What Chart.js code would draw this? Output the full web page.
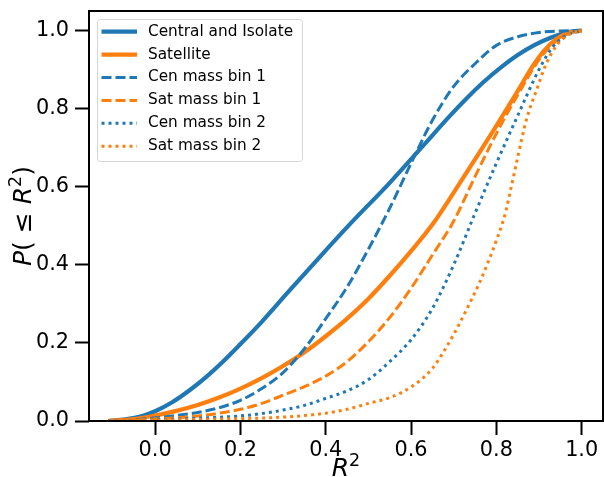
<!DOCTYPE html>
<html>
<head>
<meta charset="utf-8">
<script src="https://cdn.jsdelivr.net/npm/chart.js@4.4.0/dist/chart.umd.min.js"></script>
<style>
  html, body { margin: 0; padding: 0; background: #fff; }
  #wrap { width: 604px; height: 477px; }
</style>
</head>
<body>
<div id="wrap"><canvas id="cdfchart" width="604" height="477"></canvas></div>
<script>
// values (x = R^2, y = cumulative fraction)
const cenAllX = [-0.11, -0.07, -0.03, 0.0, 0.04, 0.08, 0.12, 0.16, 0.2, 0.25, 0.31, 0.39, 0.46, 0.55, 0.63, 0.69, 0.73, 0.77, 0.81, 0.85, 0.89, 0.93, 0.97, 1.0];
const cenAllY = [0, 0.004, 0.013, 0.025, 0.048, 0.078, 0.113, 0.153, 0.197, 0.254, 0.328, 0.425, 0.508, 0.61, 0.707, 0.78, 0.826, 0.868, 0.905, 0.937, 0.963, 0.983, 0.996, 1.0];

const satAllX = [-0.11, -0.05, 0.0, 0.05, 0.1, 0.15, 0.2, 0.25, 0.3, 0.35, 0.4, 0.45, 0.5, 0.55, 0.6, 0.65, 0.7, 0.75, 0.8, 0.85, 0.88, 0.91, 0.94, 0.97, 1.0];
const satAllY = [0, 0.005, 0.014, 0.026, 0.041, 0.06, 0.083, 0.11, 0.141, 0.176, 0.217, 0.262, 0.313, 0.372, 0.435, 0.503, 0.585, 0.67, 0.756, 0.845, 0.9, 0.946, 0.978, 0.995, 1.0];

const cenBin1X = [-0.11, -0.05, 0.0, 0.05, 0.1, 0.15, 0.2, 0.25, 0.3, 0.35, 0.4, 0.45, 0.5, 0.55, 0.6, 0.65, 0.7, 0.75, 0.8, 0.85, 0.9, 0.95, 1.0];
const cenBin1Y = [0, 0.003, 0.008, 0.014, 0.022, 0.034, 0.053, 0.083, 0.124, 0.185, 0.262, 0.343, 0.44, 0.545, 0.66, 0.77, 0.857, 0.915, 0.962, 0.984, 0.995, 0.999, 1.0];

const satBin1X = [-0.11, 0.0, 0.05, 0.1, 0.15, 0.2, 0.25, 0.3, 0.35, 0.4, 0.45, 0.5, 0.55, 0.6, 0.65, 0.7, 0.75, 0.8, 0.85, 0.9, 0.93, 0.96, 1.0];
const satBin1Y = [0, 0.005, 0.008, 0.013, 0.02, 0.03, 0.045, 0.066, 0.088, 0.115, 0.152, 0.203, 0.265, 0.34, 0.425, 0.512, 0.626, 0.736, 0.835, 0.925, 0.963, 0.988, 1.0];

const cenBin2X = [-0.11, 0.0, 0.1, 0.2, 0.25, 0.3, 0.35, 0.4, 0.45, 0.5, 0.55, 0.6, 0.65, 0.7, 0.75, 0.8, 0.85, 0.9, 0.93, 0.96, 1.0];
const cenBin2Y = [0, 0.003, 0.007, 0.013, 0.019, 0.028, 0.04, 0.058, 0.077, 0.106, 0.152, 0.208, 0.288, 0.4, 0.532, 0.66, 0.782, 0.9, 0.955, 0.985, 1.0];

const satBin2X = [-0.11, 0.0, 0.15, 0.3, 0.4, 0.45, 0.5, 0.55, 0.6, 0.65, 0.7, 0.73, 0.76, 0.78, 0.8, 0.82, 0.835, 0.85, 0.87, 0.895, 0.915, 0.94, 0.97, 1.0];
const satBin2Y = [0, 0.002, 0.005, 0.01, 0.02, 0.03, 0.045, 0.06, 0.087, 0.135, 0.222, 0.285, 0.353, 0.405, 0.462, 0.528, 0.6, 0.675, 0.77, 0.85, 0.91, 0.96, 0.99, 1.0];

const seriesNames = ["Central and Isolate", "Satellite", "Cen mass bin 1", "Sat mass bin 1", "Cen mass bin 2", "Sat mass bin 2"];
const xTicks = [0.0, 0.2, 0.4, 0.6, 0.8, 1.0];
const yTicks = [0.0, 0.2, 0.4, 0.6, 0.8, 1.0];

const BLUE = "#1f77b4";
const ORANGE = "#ff7f0e";
const FONT = "'DejaVu Sans', 'Liberation Sans', sans-serif";

function pts(xs, ys) {
  return xs.map((x, i) => ({ x: x, y: ys[i] }));
}

// line styles, same order as seriesNames
const styles = [
  { color: BLUE, width: 4.2, dash: [] },
  { color: ORANGE, width: 4.2, dash: [] },
  { color: BLUE, width: 3, dash: [10, 4] },
  { color: ORANGE, width: 3, dash: [10, 4] },
  { color: BLUE, width: 3, dash: [3, 4] },
  { color: ORANGE, width: 3, dash: [3, 4] },
];
const seriesData = [
  pts(cenAllX, cenAllY), pts(satAllX, satAllY),
  pts(cenBin1X, cenBin1Y), pts(satBin1X, satBin1Y),
  pts(cenBin2X, cenBin2Y), pts(satBin2X, satBin2Y),
];

const datasets = seriesNames.map((name, i) => ({
  label: name,
  data: seriesData[i],
  borderColor: styles[i].color,
  backgroundColor: styles[i].color,
  borderWidth: styles[i].width,
  borderDash: styles[i].dash,
  borderCapStyle: "butt",
  pointRadius: 0,
  showLine: true,
  fill: false,
  cubicInterpolationMode: "monotone",
  order: seriesNames.length - i, // later series on top, like matplotlib
}));

// draws mathtext-like pieces: italic letters and a raised small "2"
function drawMath(ctx, parts, x, y, size) {
  let cx = x;
  parts.forEach((p) => {
    const fs = p.sup ? size * 0.7 : size;
    ctx.font = (p.it ? "italic " : "") + fs + "px " + FONT;
    ctx.fillText(p.t, cx, p.sup ? y - size * 0.42 : y);
    cx += ctx.measureText(p.t).width;
  });
}
function mathWidth(ctx, parts, size) {
  let w = 0;
  parts.forEach((p) => {
    const fs = p.sup ? size * 0.7 : size;
    ctx.font = (p.it ? "italic " : "") + fs + "px " + FONT;
    w += ctx.measureText(p.t).width;
  });
  return w;
}

const xLabelParts = [{ t: "R", it: true }, { t: "2", sup: true }];
const yLabelParts = [{ t: "P", it: true }, { t: "( \u2264 " }, { t: "R", it: true }, { t: "2", sup: true }, { t: ")" }];

// black frame round the plot area
const frame = {
  id: "frame",
  afterDatasetsDraw(chart) {
    const a = chart.chartArea;
    const ctx = chart.ctx;
    ctx.save();
    ctx.strokeStyle = "#000";
    ctx.lineWidth = 2;
    ctx.strokeRect(a.left, a.top, a.right - a.left, a.bottom - a.top);
    ctx.restore();
  },
};

// legend box in the upper left corner of the axes
const legendBox = {
  id: "legendBox",
  afterDraw(chart) {
    const a = chart.chartArea;
    const ctx = chart.ctx;
    const x0 = a.left + 8, y0 = a.top + 8, w = 205, h = 142;
    ctx.save();
    ctx.beginPath();
    ctx.roundRect(x0 + 0.5, y0 + 0.5, w, h, 3);
    ctx.fillStyle = "rgba(255,255,255,0.8)";
    ctx.fill();
    ctx.strokeStyle = "#d6d6d6";
    ctx.lineWidth = 1;
    ctx.stroke();
    ctx.font = "15.3px " + FONT;
    ctx.textBaseline = "middle";
    ctx.fillStyle = "#000";
    seriesNames.forEach((name, i) => {
      const y = y0 + 12.7 + i * 22.9;
      ctx.beginPath();
      ctx.strokeStyle = styles[i].color;
      ctx.lineWidth = styles[i].width;
      ctx.lineCap = "butt";
      ctx.setLineDash(styles[i].dash);
      ctx.moveTo(x0 + 4.5, y);
      ctx.lineTo(x0 + 40, y);
      ctx.stroke();
      ctx.setLineDash([]);
      ctx.fillText(name, x0 + 51, y);
    });
    ctx.restore();
  },
};

// axis titles: R^2 under the x axis, P(<= R^2) turned along the y axis
const axisTitles = {
  id: "axisTitles",
  afterDraw(chart) {
    const a = chart.chartArea;
    const ctx = chart.ctx;
    const size = 25;
    ctx.save();
    ctx.fillStyle = "#000";
    ctx.textBaseline = "alphabetic";
    ctx.textAlign = "left";
    const xw = mathWidth(ctx, xLabelParts, size);
    drawMath(ctx, xLabelParts, (a.left + a.right) / 2 - xw / 2, 476, size);
    const yw = mathWidth(ctx, yLabelParts, size);
    ctx.translate(31, (a.top + a.bottom) / 2);
    ctx.rotate(-Math.PI / 2);
    drawMath(ctx, yLabelParts, -yw / 2, 0, size);
    ctx.restore();
  },
};

const tickFont = { family: FONT, size: 20.8 };

new Chart(document.getElementById("cdfchart").getContext("2d"), {
  type: "scatter",
  data: { datasets: datasets },
  options: {
    responsive: false,
    animation: false,
    layout: { padding: { top: 11, right: 1, left: 0, bottom: 0 } },
    plugins: {
      legend: { display: false },
      tooltip: { enabled: false },
    },
    scales: {
      x: {
        type: "linear",
        min: -0.155,
        max: 1.05,
        afterBuildTicks: (s) => { s.ticks = xTicks.map((v) => ({ value: v })); },
        afterFit: (s) => { s.height = 56; s.paddingLeft = 0; s.paddingRight = 0; },
        border: { display: false },
        grid: { drawOnChartArea: false, drawTicks: true, tickLength: 14, tickWidth: 2, tickColor: "#000" },
        ticks: { color: "#000", font: tickFont, padding: 3, maxRotation: 0, autoSkip: false, callback: (v) => Number(v).toFixed(1) },
      },
      y: {
        type: "linear",
        min: 0,
        max: 1.05,
        afterBuildTicks: (s) => { s.ticks = yTicks.map((v) => ({ value: v })); },
        afterFit: (s) => { s.width = 89; s.paddingTop = 0; s.paddingBottom = 0; },
        border: { display: false },
        grid: { drawOnChartArea: false, drawTicks: true, tickLength: 14, tickWidth: 2, tickColor: "#000" },
        ticks: { color: "#000", font: tickFont, padding: 6, autoSkip: false, callback: (v) => Number(v).toFixed(1) },
      },
    },
  },
  plugins: [frame, legendBox, axisTitles],
});
</script>
</body>
</html>
